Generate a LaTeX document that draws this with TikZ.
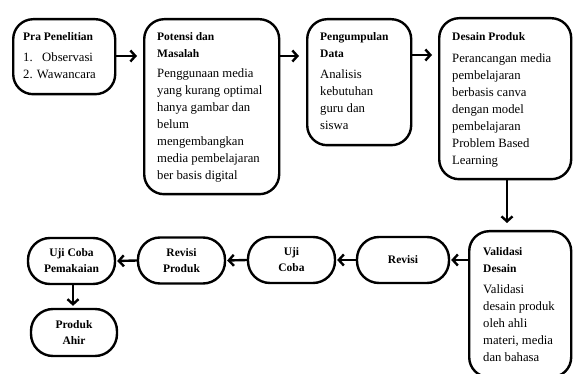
\documentclass[tikz,border=0pt]{standalone}
\usepackage{fontspec}
\setmainfont{Liberation Serif}
\usetikzlibrary{arrows.meta}
\newcommand{\ttl}{\fontsize{11.5}{17}\selectfont\bfseries}
\newcommand{\stagetxt}[5]{\parbox[c][#2][t]{#1}{\raggedright\leftskip=#3\relax\fontsize{12.7}{17}\selectfont\rule{0pt}{#4}#5}}

\begin{document}
\begin{tikzpicture}[x=1pt,y=-1pt,
		stage/.style={draw, line width=2.4pt, rounded corners=20pt, inner sep=0pt, anchor=north west},
		pill/.style={draw, line width=2.4pt, rounded corners=22pt, inner sep=0pt, minimum width=87pt, minimum height=46pt, align=center, font=\fontsize{11.5}{16}\selectfont\bfseries},
		flow/.style={-{Straight Barb[length=5pt,width=11pt]}, line width=2.4pt}]
		\useasboundingbox (0,0) rectangle (573,374);
		\clip (0,0) rectangle (573,374);
		
		\node[stage] (pra) at (12,18) {\stagetxt{102pt}{75pt}{10pt}{21pt}{{\ttl Pra Penelitian\par}\vspace{4pt}1.\ \ \ Observasi\\2. Wawancara}};
		\node[stage] (pot) at (143,18) {\stagetxt{135pt}{175pt}{13pt}{21pt}{{\ttl Potensi dan\\Masalah\par}\vspace{3pt}Penggunaan media\\yang kurang optimal\\hanya gambar dan\\belum\\mengembangkan\\media pembelajaran\\ber basis digital}};
		\node[stage] (pgd) at (306,18) {\stagetxt{104pt}{126pt}{13pt}{21pt}{{\ttl Pengumpulan\\Data\par}\vspace{4pt}Analisis\\kebutuhan\\guru dan\\siswa}};
		\node[stage] (dsn) at (438,17) {\stagetxt{132pt}{161pt}{13pt}{22pt}{{\ttl Desain Produk\par}\vspace{5pt}Perancangan media\\pembelajaran\\berbasis canva\\dengan model\\pembelajaran\\Problem Based\\Learning}};
		\node[stage] (val) at (468,230) {\stagetxt{102pt}{146pt}{14pt}{24pt}{{\ttl Validasi\\Desain\par}\vspace{4pt}Validasi\\desain produk\\oleh ahli\\materi, media\\dan bahasa}};
		
		\node[pill, minimum width=92pt] (rev) at (403,260) {Revisi};
		\node[pill] (uji) at (291.5,260) {Uji\\Coba};
		\node[pill] (rpr) at (181.5,260.5) {Revisi\\Produk};
		\node[pill] (pmk) at (71.5,261) {Uji Coba\\Pemakaian};
		\node[pill, minimum width=86pt, minimum height=47pt] (ahr) at (74,332.5) {Produk\\Ahir};
		
		\draw[flow, shorten >=6pt] (pra.east |- 0,56) -- (pot.west |- 0,56);
		\draw[flow, shorten >=7pt] (pot.east |- 0,56) -- (pgd.west |- 0,56);
		\draw[flow, shorten >=6pt] (pgd.east |- 0,55) -- (dsn.west |- 0,55);
		\draw[flow, shorten >=7pt] (dsn.south -| 507,0) -- (val.north -| 507,0);
		\draw[flow, shorten >=1pt] (val.west |- rev.east) -- (rev.east);
		\draw[flow, shorten >=1pt] (rev.west) -- (uji.east);
		\draw[flow, shorten >=1pt] (uji.west) -- (rpr.east);
		\draw[flow, shorten >=1pt] (rpr.west) -- (pmk.east);
		\draw[flow, shorten >=2pt] (pmk.south -| 73,0) -- (ahr.north -| 73,0);
	\end{tikzpicture}
\end{document}
